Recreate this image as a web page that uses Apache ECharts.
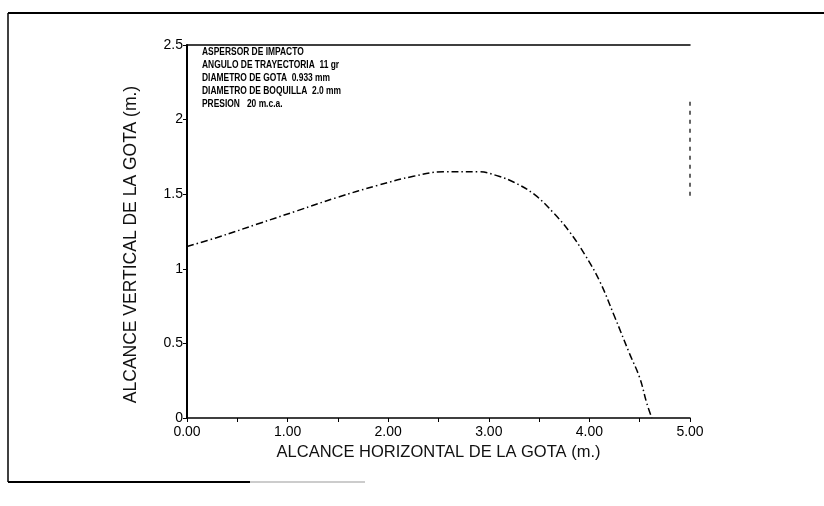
<!DOCTYPE html>
<html>
<head>
<meta charset="utf-8">
<script src="https://cdn.jsdelivr.net/npm/echarts@6/dist/echarts.min.js"></script>
<style>
  html, body { margin: 0; padding: 0; background: #fff; }
  #chart { width: 824px; height: 506px; }
</style>
</head>
<body>
<div id="chart"></div>
<script>
// trayectoria de la gota
var alcanceX = [0, 0.3, 0.7, 1.1, 1.5, 1.9, 2.25, 2.55, 2.9, 3.1, 3.25, 3.45, 3.65, 3.8, 3.95, 4.1, 4.25, 4.4, 4.5, 4.57, 4.62];
var alcanceY = [1.15, 1.21, 1.30, 1.39, 1.48, 1.56, 1.62, 1.65, 1.65, 1.62, 1.58, 1.50, 1.37, 1.25, 1.10, 0.92, 0.68, 0.43, 0.27, 0.10, 0];
var notas = [
    'ASPERSOR DE IMPACTO',
    'ANGULO DE TRAYECTORIA  11 gr',
    'DIAMETRO DE GOTA  0.933 mm',
    'DIAMETRO DE BOQUILLA  2.0 mm',
    'PRESION   20 m.c.a.'
];
var bordeDerecho = [[5, 1.49], [5, 2.13]];

var puntos = alcanceX.map(function (x, i) { return [x, alcanceY[i]]; });
var fuente = "'Liberation Sans', Arial, sans-serif";

var myChart = echarts.init(document.getElementById('chart'), null, { renderer: 'canvas' });

var option = {
    backgroundColor: '#fff',
    animation: false,
    grid: { left: 187, right: 134, top: 45, bottom: 88 },
    xAxis: [
        {
            type: 'value', min: 0, max: 5, interval: 1,
            name: 'ALCANCE HORIZONTAL DE LA GOTA (m.)',
            nameLocation: 'middle', nameGap: 26,
            nameTextStyle: { color: '#111', fontSize: 16.5, fontFamily: fuente },
            axisLine: { lineStyle: { color: '#000', width: 1.5 } },
            axisTick: { length: 4, lineStyle: { color: '#000' } },
            minorTick: { show: true, splitNumber: 2, length: 4, lineStyle: { color: '#000' } },
            splitLine: { show: false },
            axisLabel: {
                color: '#000', fontSize: 14, fontFamily: fuente, margin: 7,
                formatter: function (v) { return v.toFixed(2); }
            }
        },
        {
            type: 'value', min: 0, max: 5, position: 'top',
            axisLine: { show: true, onZero: false, lineStyle: { color: '#000', width: 1.5 } },
            axisTick: { show: false }, axisLabel: { show: false }, splitLine: { show: false }
        }
    ],
    yAxis: {
        type: 'value', min: 0, max: 2.5, interval: 0.5,
        name: 'ALCANCE VERTICAL DE LA GOTA (m.)',
        nameLocation: 'middle', nameGap: 47, nameRotate: 90,
        nameTextStyle: { color: '#111', fontSize: 17.5, fontFamily: fuente, padding: [0, 26, 0, 0] },
        axisLine: { show: true, lineStyle: { color: '#000', width: 2 } },
        axisTick: { show: true, length: 4, lineStyle: { color: '#000' } },
        splitLine: { show: false },
        axisLabel: { color: '#000', fontSize: 14, fontFamily: fuente, margin: 4 }
    },
    series: [{
        type: 'line',
        data: puntos,
        smooth: 0.4,
        symbol: 'none',
        lineStyle: { color: '#000', width: 1.5, type: [7, 3, 1.5, 3] },
        markLine: {
            silent: true, symbol: 'none', label: { show: false },
            lineStyle: { color: '#333', width: 1.5, type: [4, 5] },
            data: [[{ coord: bordeDerecho[0] }, { coord: bordeDerecho[1] }]]
        }
    }],
    graphic: [
        // marco exterior de la figura escaneada
        { type: 'line', shape: { x1: 8, y1: 13, x2: 824, y2: 13 }, style: { stroke: '#000', lineWidth: 2 } },
        { type: 'line', shape: { x1: 8, y1: 13, x2: 8, y2: 482 }, style: { stroke: '#000', lineWidth: 1.5 } },
        { type: 'line', shape: { x1: 8, y1: 482, x2: 250, y2: 482 }, style: { stroke: '#000', lineWidth: 2 } },
        { type: 'line', shape: { x1: 250, y1: 482, x2: 365, y2: 482 }, style: { stroke: '#999', lineWidth: 1 } },
        {
            type: 'text', x: 202, y: 46, scaleX: 0.78,
            style: {
                text: notas.join('\n'), fill: '#000', fontSize: 10.8, fontWeight: 'bold',
                fontFamily: fuente, lineHeight: 12.8
            }
        }
    ]
};

myChart.setOption(option);
</script>
</body>
</html>
